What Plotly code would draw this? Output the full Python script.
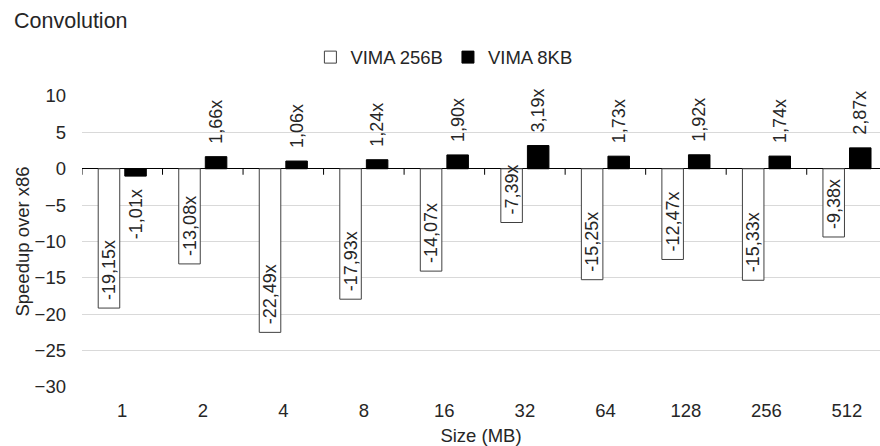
import plotly.graph_objects as go

categories = ["1", "2", "4", "8", "16", "32", "64", "128", "256", "512"]
vima_256b = [-19.15, -13.08, -22.49, -17.93, -14.07, -7.39, -15.25, -12.47, -15.33, -9.38]
vima_8kb = [-1.01, 1.66, 1.06, 1.24, 1.90, 3.19, 1.73, 1.92, 1.74, 2.87]
series_names = ["VIMA 256B", "VIMA 8KB"]
y_ticks = [10, 5, 0, -5, -10, -15, -20, -25, -30]

FONT = "Liberation Sans, Arial, sans-serif"
TXT = "#262626"
NB = "\u00a0"


def fmt(v):
    return f"{v:.2f}".replace(".", ",") + "x"


def label_inside(v):
    # text reads bottom-to-top; leading space lifts it off the bar end
    return NB + fmt(v)


def label_outside(v):
    return (NB * 2 + fmt(v)) if v >= 0 else (fmt(v) + NB * 2)


fig = go.Figure()
fig.add_trace(go.Bar(
    name=series_names[0], x=categories, y=vima_256b,
    marker=dict(color="white", line=dict(color="#404040", width=1)),
    text=[label_inside(v) for v in vima_256b], textposition="inside",
    insidetextanchor="end", textangle=-90, constraintext="none",
    textfont=dict(family=FONT, size=18, color=TXT), cliponaxis=False,
))
fig.add_trace(go.Bar(
    name=series_names[1], x=categories, y=vima_8kb,
    marker=dict(color="black", line=dict(color="black", width=1)),
    text=[label_outside(v) for v in vima_8kb], textposition="outside",
    textangle=-90, constraintext="none",
    textfont=dict(family=FONT, size=18, color=TXT), cliponaxis=False,
))

# category boundary tick marks on the zero line
shapes = []
for i in range(len(categories) + 1):
    shapes.append(dict(type="line", xref="x", yref="y", x0=i - 0.5, x1=i - 0.5,
                       ysizemode="pixel", yanchor=0, y0=0, y1=-6,
                       line=dict(color="black", width=1)))

fig.update_layout(
    width=880, height=446,
    margin=dict(l=82, r=0, t=96, b=59),
    paper_bgcolor="white", plot_bgcolor="white",
    font=dict(family=FONT, size=18, color=TXT),
    barmode="group", bargap=0.34, bargroupgap=0.19,
    title=dict(text="Convolution", x=14 / 880, xanchor="left", xref="container",
               y=1 - 20 / 446, yanchor="middle", yref="container",
               font=dict(family=FONT, size=21.5, color=TXT)),
    legend=dict(orientation="h", x=0.4535, xanchor="center", y=1.132, yanchor="middle",
                font=dict(family=FONT, size=18.5, color=TXT), itemwidth=30,
                traceorder="normal", bgcolor="rgba(0,0,0,0)"),
    xaxis=dict(type="category", range=[-0.5, 9.41], showgrid=False, showline=False,
               ticks="", tickfont=dict(family=FONT, size=18.5, color=TXT),
               ticklabelstandoff=10,
               title=dict(text="Size (MB)", standoff=9,
                          font=dict(family=FONT, size=18.5, color=TXT))),
    yaxis=dict(range=[-30, 10], tickvals=y_ticks, showgrid=True, gridcolor="#d9d9d9",
               gridwidth=1, zeroline=True, zerolinecolor="black", zerolinewidth=1,
               showline=False, ticks="", ticklabelstandoff=15,
               tickfont=dict(family=FONT, size=18.5, color=TXT),
               title=dict(text="Speedup over x86", standoff=0,
                          font=dict(family=FONT, size=18.5, color=TXT))),
    shapes=shapes,
    showlegend=True,
)

fig.write_html("out.html")
